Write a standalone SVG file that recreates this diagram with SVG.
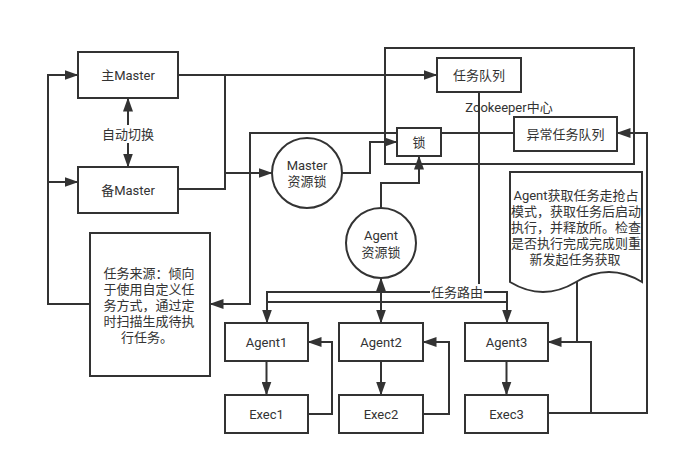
<svg xmlns="http://www.w3.org/2000/svg" width="679" height="465" viewBox="0 0 679 465">
<style>
.box{fill:#fff;stroke:#333;stroke-width:2}
.ctr{fill:none;stroke:#333;stroke-width:2}
.ln{fill:none;stroke:#333;stroke-width:2}
.a{marker-end:url(#arr)}
.aa{marker-start:url(#arr);marker-end:url(#arr)}
.t{font-family:Roboto,"Noto Sans CJK SC",sans-serif;font-size:13px;fill:#333;text-anchor:middle}
.bg{fill:#fff;stroke:none}
</style>
<defs>
<marker id="arr" viewBox="0 0 14 10" markerWidth="14" markerHeight="10" refX="13.5" refY="5" orient="auto-start-reverse" markerUnits="userSpaceOnUse">
<path d="M0,0 L14,5 L0,10 Z" fill="#333"/>
</marker>
</defs>
<rect width="679" height="465" fill="#fff"/>
<g id="zookeeper">
<rect class="ctr" x="385" y="48" width="249" height="116"/>
<text class="t" x="509" y="111.5">Zookeeper中心</text>
</g>
<g id="connectors">
<path class="ln a" d="M90,304 H48 V75 H78"/>
<path class="ln a" d="M48,182 H78"/>
<path class="ln aa" d="M128,98 V167"/>
<path class="ln a" d="M178,75 H437"/>
<path class="ln" d="M178,189 H225 V75"/>
<path class="ln a" d="M225,173 H272"/>
<path class="ln a" d="M342,173 H370 V142 H397"/>
<path class="ln a" d="M381,208 V183 H419 V156"/>
<path class="ln a" d="M514,133 H250 V304 H210"/>
<path class="ln" d="M479,92 V292"/>
<path class="ln aa" d="M267,323 V292 H507 V323"/>
<path class="ln" d="M267,302 H507"/>
<path class="ln aa" d="M381,278 V323"/>
<path class="ln a" d="M266.5,361 V395"/>
<path class="ln a" d="M381,361 V395"/>
<path class="ln a" d="M506.5,361 V395"/>
<path class="ln a" d="M308,414 H332 V342 H308"/>
<path class="ln a" d="M423,414 H449 V342 H423"/>
<path class="ln a" d="M548,413 H647 V133 H617"/>
<path class="ln a" d="M591,413 V342 H548"/>
<path class="ln" d="M577,281 V342"/>
<rect class="bg" x="101" y="125" width="54" height="18"/>
<text class="t" x="128" y="139">自动切换</text>
<rect class="bg" x="430" y="284" width="54" height="16"/>
<text class="t" x="457" y="296.5">任务路由</text>
</g>
<g id="master-main">
<rect class="box" x="78" y="52" width="100" height="46"/>
<text class="t" x="128" y="79.5">主Master</text>
</g>
<g id="master-backup">
<rect class="box" x="78" y="167" width="100" height="46"/>
<text class="t" x="128" y="194.5">备Master</text>
</g>
<g id="task-source">
<rect class="box" x="90" y="233" width="120" height="143"/>
<text class="t" x="149" y="277.8">任务来源：倾向</text>
<text class="t" x="149" y="293.8">于使用自定义任</text>
<text class="t" x="149" y="309.8">务方式，通过定</text>
<text class="t" x="149" y="325.8">时扫描生成待执</text>
<text class="t" x="147" y="341.8">行任务。</text>
</g>
<g id="task-queue">
<rect class="box" x="437" y="58" width="84" height="34"/>
<text class="t" x="479" y="79.5">任务队列</text>
</g>
<g id="abnormal-queue">
<rect class="box" x="514" y="117" width="103" height="34"/>
<text class="t" x="565.5" y="139">异常任务队列</text>
</g>
<g id="lock">
<rect class="box" x="397" y="128" width="44" height="28"/>
<text class="t" x="419" y="146.8">锁</text>
</g>
<g id="master-lock">
<circle class="box" cx="307" cy="173" r="35"/>
<text class="t" x="307" y="169.5">Master</text>
<text class="t" x="307" y="186">资源锁</text>
</g>
<g id="agent-lock">
<circle class="box" cx="381" cy="243" r="35"/>
<text class="t" x="381" y="239.5">Agent</text>
<text class="t" x="381" y="256.5">资源锁</text>
</g>
<g id="note">
<path class="box" d="M510,172 H642 V282 Q609,262 576,282 Q543,302 510,282 Z"/>
<text class="t" x="576" y="199.5">Agent获取任务走抢占</text>
<text class="t" x="576" y="215.5">模式，获取任务后启动</text>
<text class="t" x="576" y="231.5">执行，并释放所。检查</text>
<text class="t" x="576" y="247.5">是否执行完成完成则重</text>
<text class="t" x="575" y="263.5">新发起任务获取</text>
</g>
<g id="agent1">
<rect class="box" x="225" y="323" width="83" height="38"/>
<text class="t" x="266.5" y="346.5">Agent1</text>
</g>
<g id="exec1">
<rect class="box" x="225" y="395" width="83" height="38"/>
<text class="t" x="266.5" y="418.5">Exec1</text>
</g>
<g id="agent2">
<rect class="box" x="339" y="323" width="84" height="38"/>
<text class="t" x="381" y="346.5">Agent2</text>
</g>
<g id="exec2">
<rect class="box" x="339" y="395" width="84" height="38"/>
<text class="t" x="381" y="418.5">Exec2</text>
</g>
<g id="agent3">
<rect class="box" x="465" y="323" width="83" height="38"/>
<text class="t" x="506.5" y="346.5">Agent3</text>
</g>
<g id="exec3">
<rect class="box" x="465" y="395" width="83" height="38"/>
<text class="t" x="506.5" y="418.5">Exec3</text>
</g>
</svg>
